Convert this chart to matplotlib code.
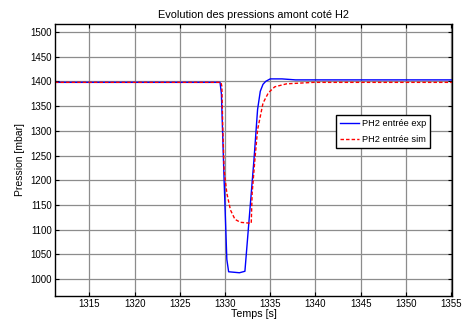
import matplotlib
matplotlib.use("Agg")
import matplotlib.pyplot as plt
import numpy as np

plt.rcParams["font.family"] = ["Liberation Sans", "DejaVu Sans"]

# Pression d'entrée H2 mesurée (exp)
t_exp = [1311.2, 1329.45, 1329.6, 1329.9, 1330.2, 1330.4, 1331.0, 1331.6, 1332.2,
         1332.6, 1333.2, 1333.6, 1333.9, 1334.2, 1334.5, 1335.0, 1336.3, 1337.8, 1355.1]
p_exp = [1398, 1398, 1375, 1200, 1040, 1015, 1014, 1013, 1016,
         1106, 1241, 1343, 1380, 1394, 1400, 1405, 1405, 1403, 1403]

# Pression d'entrée H2 simulée (sim)
t_sim = [1311.2, 1329.55, 1329.65, 1329.75, 1329.9, 1330.2, 1330.6, 1331.1, 1331.7,
         1332.9, 1333.0, 1333.3, 1333.6, 1333.9, 1334.2, 1334.8, 1335.5, 1336.8,
         1339.8, 1355.1]
p_sim = [1398, 1398, 1390, 1309, 1221, 1174, 1140, 1121, 1115,
         1113, 1174, 1241, 1302, 1329, 1356, 1377, 1389, 1395,
         1398, 1398]

x_ticks = np.arange(1315, 1356, 5)
y_ticks = np.arange(1000, 1501, 50)

fig = plt.figure(figsize=(4.63, 3.2), dpi=100)
ax = fig.add_axes([55 / 463, 1 - 296 / 320, 397 / 463, 272 / 320])

ax.plot(t_exp, p_exp, color="#0000ff", linewidth=1.0, label="PH2 entrée exp")
ax.plot(t_sim, p_sim, color="#ff0000", linewidth=1.0, linestyle=(0, (2.5, 1.5)),
        label="PH2 entrée sim")

ax.set_xlim(1311.2, 1355.1)
ax.set_ylim(966, 1516)
ax.set_xticks(x_ticks)
ax.set_yticks(y_ticks)
ax.tick_params(direction="in", labelsize=7, length=3, width=0.8,
               top=True, right=True, pad=2)
ax.grid(True, color="#8c8c8c", linewidth=0.9)
for s in ax.spines.values():
    s.set_linewidth(1.0)

ax.set_title("Evolution des pressions amont coté H2", fontsize=7.9, pad=4)
ax.set_xlabel("Temps [s]", fontsize=7.7, labelpad=0)
ax.set_ylabel("Pression [mbar]", fontsize=7.5, labelpad=4)

leg = ax.legend(loc="upper left", bbox_to_anchor=(0.708, 0.665), borderaxespad=0,
                fontsize=6.7, fancybox=False, framealpha=1, edgecolor="black",
                handlelength=2.0, handletextpad=0.3, borderpad=0.45,
                labelspacing=0.75)
leg.get_frame().set_linewidth(1.0)

fig.savefig("out.png", dpi=100)
